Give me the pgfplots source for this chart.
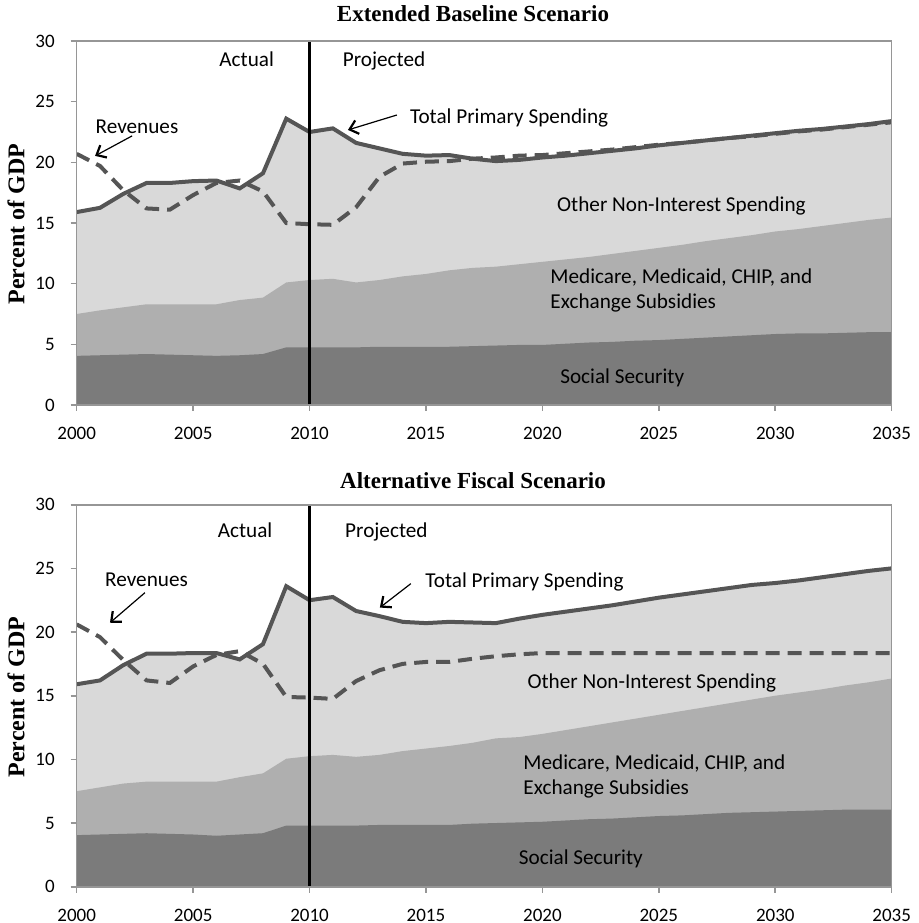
\documentclass[border=0pt]{standalone}
\usepackage{fontspec}
\setmainfont{Carlito}
\newfontfamily\timesfont{Liberation Serif}
\usepackage{pgfplots}
\pgfplotsset{compat=1.18}
\usepackage{pgfplotstable}
\usetikzlibrary{arrows.meta}

\definecolor{lightfill}{RGB}{217,217,217}
\definecolor{medfill}{RGB}{175,175,175}
\definecolor{ssfill}{RGB}{123,123,123}
\definecolor{linegray}{RGB}{85,85,85}
\definecolor{framegray}{RGB}{150,150,150}

% yr: year, ss: social security, med: top of medicare band, tot: total primary spending, rev: revenues
\pgfplotstableread{
yr   ss    med    tot    rev
2000 4.05  7.5    15.9   20.7
2001 4.1   7.8    16.25  19.7
2002 4.15  8.05   17.4   17.7
2003 4.2   8.3    18.3   16.2
2004 4.15  8.3    18.3   16.1
2005 4.1   8.3    18.45  17.3
2006 4.05  8.3    18.5   18.3
2007 4.1   8.65   17.85  18.5
2008 4.2   8.85   19.1   17.6
2009 4.75  10.1   23.6   15.0
2010 4.75  10.3   22.5   14.9
2011 4.75  10.4   22.8   14.85
2012 4.75  10.1   21.6   16.3
2013 4.8   10.3   21.15  18.8
2014 4.8   10.6   20.7   19.9
2015 4.8   10.8   20.55  20.05
2016 4.8   11.1   20.6   20.1
2017 4.85  11.3   20.3   20.3
2018 4.9   11.4   20.1   20.4
2019 4.95  11.6   20.2   20.55
2020 4.95  11.8   20.4   20.6
2021 5.05  12.0   20.55  20.75
2022 5.15  12.2   20.75  20.9
2023 5.2   12.45  20.95  21.05
2024 5.3   12.7   21.15  21.25
2025 5.35  12.95  21.4   21.45
2026 5.45  13.2   21.6   21.6
2027 5.55  13.5   21.8   21.8
2028 5.65  13.75  22.0   22.0
2029 5.75  14.0   22.2   22.15
2030 5.85  14.3   22.4   22.35
2031 5.9   14.5   22.6   22.55
2032 5.9   14.75  22.75  22.7
2033 5.95  15.0   22.95  22.9
2034 6.0   15.25  23.15  23.1
2035 6.0   15.45  23.4   23.3
}\basedata

\pgfplotstableread{
yr   ss    med    tot    rev
2000 4.05  7.5    15.9   20.6
2001 4.1   7.8    16.2   19.6
2002 4.15  8.1    17.4   17.8
2003 4.2   8.25   18.3   16.2
2004 4.15  8.25   18.3   16.0
2005 4.1   8.25   18.35  17.3
2006 4.0   8.25   18.35  18.2
2007 4.1   8.6    17.85  18.5
2008 4.2   8.9    19.05  17.5
2009 4.8   10.05  23.6   14.9
2010 4.8   10.25  22.5   14.85
2011 4.8   10.35  22.75  14.75
2012 4.8   10.2   21.65  16.15
2013 4.85  10.35  21.25  17.0
2014 4.85  10.65  20.8   17.5
2015 4.85  10.85  20.7   17.65
2016 4.85  11.05  20.8   17.65
2017 4.95  11.3   20.75  17.9
2018 5.0   11.65  20.7   18.1
2019 5.05  11.75  21.05  18.25
2020 5.1   12.0   21.35  18.35
2021 5.2   12.3   21.6   18.35
2022 5.3   12.6   21.85  18.35
2023 5.35  12.9   22.1   18.35
2024 5.45  13.2   22.4   18.35
2025 5.55  13.5   22.7   18.35
2026 5.6   13.8   22.95  18.35
2027 5.7   14.1   23.2   18.35
2028 5.8   14.4   23.45  18.35
2029 5.85  14.7   23.7   18.35
2030 5.9   15.0   23.85  18.35
2031 5.95  15.25  24.05  18.35
2032 6.0   15.5   24.3   18.35
2033 6.05  15.8   24.55  18.35
2034 6.05  16.05  24.8   18.35
2035 6.05  16.35  25.0   18.35
}\altdata

\pgfplotsset{
  budget/.style={
    scale only axis,
    width=407.5pt,
    xmin=2000, xmax=2035,
    ymin=0, ymax=30,
    xtick={2000,2005,...,2035},
    ytick={0,5,...,30},
    axis line style={framegray, line width=0.8pt},
    tick style={framegray, line width=0.8pt},
    tick align=outside,
    tick pos=left,
    major tick length=3pt,
    axis on top,
    /pgf/number format/.cd, 1000 sep={}, assume math mode=true,
    /pgfplots/.cd,
    ticklabel style={font=\fontsize{9.5}{11}\selectfont, text=black},
    yticklabel style={xshift=-4.5pt},
    xticklabel style={yshift=-4.5pt},
  },
}
\tikzset{
  lbl/.style={font=\fontsize{10.6}{12.5}\selectfont, anchor=base, inner sep=0pt},
  pointer/.style={black, line width=0.6pt, -{Straight Barb[length=4pt,width=7pt,line width=1.1pt]}},
}

\begin{document}
\begin{tikzpicture}
\path[use as bounding box] (0pt,0pt) rectangle (459.5pt,461.5pt);

% ---------- Extended Baseline Scenario ----------
\begin{axis}[budget, height=182pt, at={(38.35pt,259pt)}, anchor=south west]
\addplot[draw=none, fill=lightfill] table[x=yr, y=tot]{\basedata} \closedcycle;
\addplot[draw=none, fill=medfill] table[x=yr, y=med]{\basedata} \closedcycle;
\addplot[draw=none, fill=ssfill] table[x=yr, y=ss]{\basedata} \closedcycle;
\addplot[linegray, line width=2pt] table[x=yr, y=tot]{\basedata};
\addplot[linegray, line width=2pt, dash pattern=on 7pt off 4pt] table[x=yr, y=rev]{\basedata};
\addplot[black, line width=1.5pt] coordinates {(2010,0) (2010,30)};

\node[lbl] at (2007.3,27.89) {Actual};
\node[lbl] at (2013.2,27.89) {Projected};
\node[lbl] at (2002.59,22.4) {Revenues};
\draw[pointer] (2002.38,22.18) -- (2000.79,20.53);
\node[lbl, anchor=base west] at (2014.3,23.22) {Total Primary Spending};
\draw[pointer] (2013.75,23.9) -- (2011.65,22.67);
\node[lbl] at (2025.97,15.94) {Other Non-Interest Spending};
\node[lbl, anchor=base west] at (2020.33,10.03) {Medicare, Medicaid, CHIP, and};
\node[lbl, anchor=base west] at (2020.33,7.97) {Exchange Subsidies};
\node[lbl] at (2023.43,1.79) {Social Security};
\end{axis}

% ---------- Alternative Fiscal Scenario ----------
\begin{axis}[budget, height=191pt, at={(38.35pt,18.15pt)}, anchor=south west]
\addplot[draw=none, fill=lightfill] table[x=yr, y=tot]{\altdata} \closedcycle;
\addplot[draw=none, fill=medfill] table[x=yr, y=med]{\altdata} \closedcycle;
\addplot[draw=none, fill=ssfill] table[x=yr, y=ss]{\altdata} \closedcycle;
\addplot[linegray, line width=2pt] table[x=yr, y=tot]{\altdata};
\addplot[linegray, line width=2pt, dash pattern=on 7pt off 4pt] table[x=yr, y=rev]{\altdata};
\addplot[black, line width=1.5pt] coordinates {(2010,0) (2010,30.3)};

\node[lbl] at (2007.23,27.44) {Actual};
\node[lbl] at (2013.3,27.44) {Projected};
\node[lbl] at (2003.0,23.58) {Revenues};
\draw[pointer] (2002.93,23.09) -- (2001.43,20.73);
\node[lbl, anchor=base west] at (2014.96,23.46) {Total Primary Spending};
\draw[pointer] (2014.35,23.8) -- (2013.02,21.92);
\node[lbl] at (2024.7,15.6) {Other Non-Interest Spending};
\node[lbl, anchor=base west] at (2019.17,9.17) {Medicare, Medicaid, CHIP, and};
\node[lbl, anchor=base west] at (2019.17,7.21) {Exchange Subsidies};
\node[lbl] at (2021.65,1.71) {Social Security};
\end{axis}

% titles and axis labels
\node[font=\timesfont\bfseries\fontsize{11.5}{13}\selectfont] at (236.5pt,454.5pt) {Extended Baseline Scenario};
\node[font=\timesfont\bfseries\fontsize{11.5}{13}\selectfont] at (236.5pt,221pt) {Alternative Fiscal Scenario};
\node[font=\timesfont\bfseries\fontsize{12}{13}\selectfont, rotate=90] at (8pt,349.5pt) {Percent of GDP};
\node[font=\timesfont\bfseries\fontsize{12}{13}\selectfont, rotate=90] at (8pt,113pt) {Percent of GDP};
\end{tikzpicture}
\end{document}
